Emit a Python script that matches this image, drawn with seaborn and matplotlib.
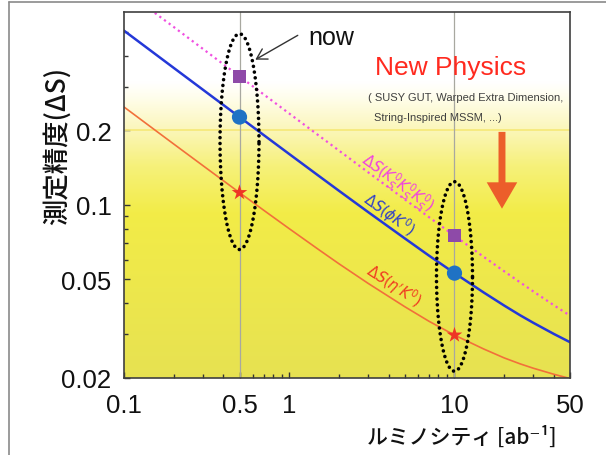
import numpy as np
import pandas as pd
import matplotlib
matplotlib.use("Agg")
import matplotlib.pyplot as plt
import seaborn as sns
from matplotlib.colors import LinearSegmentedColormap
from matplotlib.lines import Line2D
from matplotlib.ticker import FixedLocator, NullFormatter, FixedFormatter

# ---- data ----
lumi = [0.1, 0.15, 0.2, 0.3, 0.5, 0.7, 1, 1.5, 2, 3, 5, 7, 10, 15, 20, 25, 30, 40, 50]
ds_kskk = [0.738, 0.602, 0.522, 0.426, 0.330, 0.279, 0.2336, 0.1909, 0.1655, 0.1353,
           0.1052, 0.0892, 0.0750, 0.0617, 0.0539, 0.0486, 0.0447, 0.0393, 0.0357]
ds_phik = [0.5045, 0.412, 0.3569, 0.2916, 0.2261, 0.1913, 0.1603, 0.1312, 0.1139, 0.0935,
           0.0732, 0.0624, 0.0530, 0.0443, 0.0392, 0.0358, 0.0334, 0.0301, 0.0279]
ds_etak = [0.2482, 0.2029, 0.1759, 0.1440, 0.1120, 0.0951, 0.0801, 0.0661, 0.0578, 0.0482,
           0.0388, 0.0339, 0.0298, 0.0262, 0.0241, 0.0228, 0.0219, 0.0207, 0.0199]

lumi_pts = [0.5, 10]
kskk_pts = [0.33, 0.075]
phik_pts = [0.226, 0.053]
etak_pts = [0.112, 0.0298]

# dotted ellipses around the two luminosity points (y low, y high, width in decades)
ell_lo = [0.066, 0.0213]
ell_hi = [0.49, 0.124]
ell_wdec = [0.236, 0.218]

xticks = [0.1, 0.5, 1, 10, 50]
xticklabels = ["0.1", "0.5", "1", "10", "50"]
yticks = [0.02, 0.05, 0.1, 0.2]
yticklabels = ["0.02", "0.05", "0.1", "0.2"]

sns.set_theme(style="ticks")
plt.rcParams["font.family"] = ["Liberation Sans", "Noto Sans CJK JP", "DejaVu Sans"]

fig = plt.figure(figsize=(6.06, 4.56), dpi=100)
ax = fig.add_axes([124/606, 1-379/456, 446/606, 366/456])
ax.set_xscale("log")
ax.set_yscale("log")

# background gradient
cmap = LinearSegmentedColormap.from_list("bg", [
    (0.00, (0.905, 0.885, 0.320)),
    (0.45, (0.950, 0.925, 0.280)),
    (0.58, (0.965, 0.945, 0.480)),
    (0.68, (0.985, 0.965, 0.730)),
    (0.77, (1.000, 0.995, 0.930)),
    (0.81, (1.000, 1.000, 1.000)),
    (1.00, (1.000, 1.000, 1.000)),
])
grad = np.linspace(1, 0, 256).reshape(-1, 1)
ax.imshow(grad, cmap=cmap, aspect="auto", extent=[0, 1, 0, 1],
          transform=ax.transAxes, zorder=0, interpolation="bilinear")

# reference lines
ax.axhline(0.2, color="#f6e97c", lw=1.3, zorder=1)
for xv in lumi_pts:
    ax.axvline(xv, color="#a8a8a0", lw=0.9, zorder=1)

df = pd.DataFrame({"L": lumi, "kskk": ds_kskk, "phik": ds_phik, "etak": ds_etak})
sns.lineplot(data=df, x="L", y="kskk", ax=ax, color="#f050e0", lw=1.6,
             linestyle=(0, (1, 1.6)), zorder=3)
sns.lineplot(data=df, x="L", y="phik", ax=ax, color="#2438d8", lw=1.8, zorder=3)
sns.lineplot(data=df, x="L", y="etak", ax=ax, color="#f2703a", lw=1.2, zorder=3)

# ellipses
t = np.linspace(0, 2*np.pi, 300)
for xc, lo, hi, wd in zip(lumi_pts, ell_lo, ell_hi, ell_wdec):
    ymid = (np.log10(lo) + np.log10(hi)) / 2
    yh = (np.log10(hi) - np.log10(lo)) / 2
    ex = 10 ** (np.log10(xc) + wd/2*np.cos(t))
    ey = 10 ** (ymid + yh*np.sin(t))
    ax.plot(ex, ey, color="black", lw=2.6, linestyle=(0, (0.01, 1.6)),
            dash_capstyle="round", zorder=4)

pts = pd.DataFrame({"L": lumi_pts, "kskk": kskk_pts, "phik": phik_pts, "etak": etak_pts})
sns.scatterplot(data=pts, x="L", y="kskk", ax=ax, marker="s", s=85, color="#8e4aa8",
                edgecolor="none", zorder=5)
sns.scatterplot(data=pts, x="L", y="phik", ax=ax, marker="o", s=120, color="#1f72c4",
                edgecolor="none", zorder=5)
sns.scatterplot(data=pts, x="L", y="etak", ax=ax, marker="*", s=140, color="#ee3525",
                edgecolor="none", zorder=5)

ax.set_xlim(0.1, 50)
ax.set_ylim(0.02, 0.6)
ax.set_xlabel("")
ax.set_ylabel("")

ax.xaxis.set_major_locator(FixedLocator(xticks))
ax.xaxis.set_major_formatter(FixedFormatter(xticklabels))
ax.xaxis.set_minor_locator(FixedLocator([0.2, 0.3, 0.4, 0.6, 0.7, 0.8, 0.9,
                                         2, 3, 4, 5, 6, 7, 8, 9, 20, 30, 40]))
ax.xaxis.set_minor_formatter(NullFormatter())
ax.yaxis.set_major_locator(FixedLocator(yticks))
ax.yaxis.set_major_formatter(FixedFormatter(yticklabels))
ax.yaxis.set_minor_locator(FixedLocator([0.03, 0.04, 0.06, 0.07, 0.08, 0.09, 0.3, 0.4, 0.5]))
ax.yaxis.set_minor_formatter(NullFormatter())
ax.tick_params(which="both", direction="in", top=False, right=False, color="#333333",
               width=1.0)
ax.tick_params(which="major", length=4, labelsize=18.5, labelcolor="#111111")
ax.tick_params(axis="x", which="major", pad=11)
ax.tick_params(axis="y", which="major", pad=9)
ax.tick_params(which="minor", length=3)
for sp in ax.spines.values():
    sp.set_color("#404040")
    sp.set_linewidth(1.2)
    sp.set_zorder(6)

# curve labels
ax.text(4.49, 0.1236, r"$\Delta S(K^0_S K^0_S K^0_S)$", color="#f040e0", fontsize=10.5,
        rotation=-36, ha="center", va="center", zorder=6)
ax.text(4.02, 0.0921, r"$\Delta S(\phi K^0)$", color="#2f3fc8", fontsize=10.5,
        rotation=-36, ha="center", va="center", zorder=6)
ax.text(4.31, 0.0477, r"$\Delta S(\eta' K^0)$", color="#f03a20", fontsize=10.5,
        rotation=-33, ha="center", va="center", zorder=6)

# "now" annotation
ax.text(0.464, 0.932, "now", transform=ax.transAxes, fontsize=18, ha="center",
        va="center", color="#111111", zorder=7)
ax.annotate("", xy=(0.289, 0.866), xytext=(0.395, 0.940), xycoords="axes fraction",
            textcoords="axes fraction",
            arrowprops=dict(arrowstyle="->,head_length=0.6,head_width=0.35",
                            color="#333333", lw=1.0), zorder=7)

# New physics text
ax.text(0.733, 0.850, "New Physics", transform=ax.transAxes, fontsize=19,
        color="#ff2a1f", ha="center", va="center", zorder=7)
ax.text(0.767, 0.768, "( SUSY GUT, Warped Extra Dimension,", transform=ax.transAxes,
        fontsize=8, color="#3f3f3f", ha="center", va="center", zorder=7)
ax.text(0.704, 0.713, "String-Inspired MSSM, ...)", transform=ax.transAxes,
        fontsize=8, color="#3f3f3f", ha="center", va="center", zorder=7)
ax.annotate("", xy=(0.8475, 0.455), xytext=(0.8475, 0.680), xycoords="axes fraction",
            textcoords="axes fraction",
            arrowprops=dict(arrowstyle="simple,head_length=1.9,head_width=2.2,tail_width=0.5",
                            mutation_scale=10, color="#ec5e2a", lw=0), zorder=7)

# axis labels
fig.text(57/606, 1-146/456, "測定精度(ΔS)", rotation=90, ha="center", va="center",
         fontsize=19, family=["Noto Sans CJK JP", "DejaVu Sans"], color="#111111",
         fontweight="medium")
fig.text(462/606, 1-438/456, "ルミノシティ [ab⁻¹]", ha="center", va="center",
         fontsize=15, family=["Noto Sans CJK JP", "DejaVu Sans"], color="#111111",
         fontweight="medium")

# outer frame lines
fig.add_artist(Line2D([9/606, 9/606], [0, 1-3/456], color="#8a8a8a", lw=1.2))
fig.add_artist(Line2D([9/606, 1], [1-3/456, 1-3/456], color="#8a8a8a", lw=1.2))

fig.savefig("out.png", dpi=100)
